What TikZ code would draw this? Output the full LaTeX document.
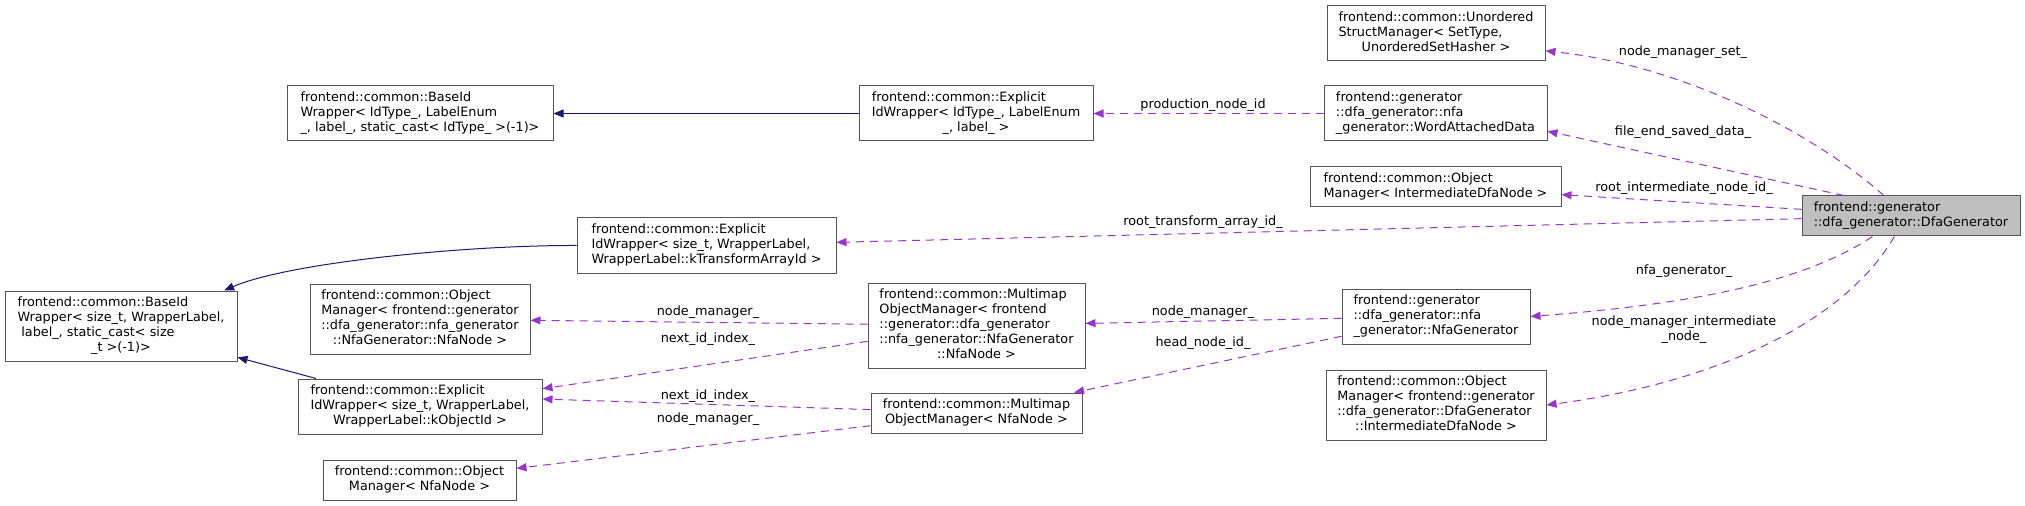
\documentclass[tikz,border=0pt]{standalone}
\usepackage{fontspec}
\setmainfont{DejaVu Sans}
\usetikzlibrary{arrows.meta}
\definecolor{usecol}{HTML}{9A32CD}
\definecolor{inhcol}{HTML}{191970}
\definecolor{boxcol}{HTML}{555555}
\definecolor{mainfill}{HTML}{BFBFBF}
\newcommand\boxtext[2]{\begin{tabular}{@{}l@{}}#1\\\multicolumn{1}{@{}c@{}}{#2}\end{tabular}}
\tikzset{
  cls/.style={draw=boxcol, line width=0.75pt, fill=white, inner xsep=7.5pt, inner ysep=0pt,
              font=\fontsize{9.6}{11.25}\selectfont},
  maincls/.style={cls, fill=mainfill},
  lbl/.style={inner sep=0pt, align=center, font=\fontsize{9.6}{11.25}\selectfont},
  inh/.style={draw=inhcol, line width=0.75pt},
  member/.style={draw=usecol, line width=0.75pt, dash pattern=on 6pt off 4.5pt}
}

\begin{document}
\begin{tikzpicture}[x=0.75pt,y=-0.75pt,>={Triangle[length=7.5pt,width=6pt]}]
          \useasboundingbox (0,0) rectangle (2025,506);
          \begin{scope}
              \node[maincls, minimum width=163.5pt, minimum height=30pt] (dfa) at (1911,216)
                  {\boxtext{frontend::generator}{::dfa\_generator::DfaGenerator}};

              \node[cls, minimum width=163.5pt, minimum height=41.25pt] (unordered) at (1436,33.5)
                  {\boxtext{frontend::common::Unordered\\StructManager< SetType,}{UnorderedSetHasher >}};
              \node[cls, minimum width=167.25pt, minimum height=41.25pt] (wordData) at (1435.5,113.5)
                  {\boxtext{frontend::generator\\::dfa\_generator::nfa}{\_generator::WordAttachedData}};
              \node[cls, minimum width=188.25pt, minimum height=30pt] (objIDN) at (1435.5,187)
                  {\boxtext{frontend::common::Object}{Manager< IntermediateDfaNode >}};
              \node[cls, minimum width=141pt, minimum height=41.25pt] (nfaGen) at (1436,316.5)
                  {\boxtext{frontend::generator\\::dfa\_generator::nfa}{\_generator::NfaGenerator}};
              \node[cls, minimum width=165pt, minimum height=52.5pt] (objIDNfull) at (1436,405)
                  {\boxtext{frontend::common::Object\\Manager< frontend::generator\\::dfa\_generator::DfaGenerator}{::IntermediateDfaNode >}};

              \node[cls, minimum width=175.5pt, minimum height=41.25pt] (explA) at (976,113.5)
                  {\boxtext{frontend::common::Explicit\\IdWrapper< IdType\_, LabelEnum}{\_, label\_ >}};
              \node[cls, minimum width=194.25pt, minimum height=41.25pt] (explT) at (706.5,245.5)
                  {\boxtext{frontend::common::Explicit\\IdWrapper< size\_t, WrapperLabel,}{WrapperLabel::kTransformArrayId >}};
              \node[cls, minimum width=162.75pt, minimum height=63.75pt] (multiFull) at (976.5,325.5)
                  {\boxtext{frontend::common::Multimap\\ObjectManager< frontend\\::generator::dfa\_generator\\::nfa\_generator::NfaGenerator}{::NfaNode >}};
              \node[cls, minimum width=158.25pt, minimum height=30pt] (multiNfa) at (976.5,413)
                  {\boxtext{frontend::common::Multimap}{ObjectManager< NfaNode >}};

              \node[cls, minimum width=199.5pt, minimum height=41.25pt] (baseA) at (420,113.5)
                  {\boxtext{frontend::common::BaseId\\Wrapper< IdType\_, LabelEnum}{\_, label\_, static\_cast< IdType\_ >(-1)>}};
              \node[cls, minimum width=165pt, minimum height=52.5pt] (objNfaFull) at (420,319)
                  {\boxtext{frontend::common::Object\\Manager< frontend::generator\\::dfa\_generator::nfa\_generator}{::NfaGenerator::NfaNode >}};
              \node[cls, minimum width=183pt, minimum height=41.25pt] (explO) at (420,406.5)
                  {\boxtext{frontend::common::Explicit\\IdWrapper< size\_t, WrapperLabel,}{WrapperLabel::kObjectId >}};
              \node[cls, minimum width=144.75pt, minimum height=30pt] (objNfa) at (419.5,480)
                  {\boxtext{frontend::common::Object}{Manager< NfaNode >}};
              \node[cls, minimum width=174pt, minimum height=52.5pt] (baseS) at (121,326)
                  {\boxtext{frontend::common::BaseId\\Wrapper< size\_t, WrapperLabel,\\\hspace*{0.3em}label\_, static\_cast< size}{\_t >(-1)>}};
          \end{scope}

          \begin{scope}
              \node[lbl] (lProd)    at (1203,105) {production\_node\_id};
              \node[lbl] (lSet)     at (1683,52)  {node\_manager\_set\_};
              \node[lbl] (lFileEnd) at (1683,132) {file\_end\_saved\_data\_};
              \node[lbl] (lRootInt) at (1684,188) {root\_intermediate\_node\_id\_};
              \node[lbl] (lRootTr)  at (1203,222) {root\_transform\_array\_id\_};
              \node[lbl] (lNfaGen)  at (1684,271) {nfa\_generator\_};
              \node[lbl] (lMgrInt)  at (1684,330) {node\_manager\_intermediate\\\_node\_};
              \node[lbl] (lMgrA)    at (1203,312) {node\_manager\_};
              \node[lbl] (lHead)    at (1203,343) {head\_node\_id\_};
              \node[lbl] (lMgrB)    at (708,312)  {node\_manager\_};
              \node[lbl] (lNextA)   at (708,339)  {next\_id\_index\_};
              \node[lbl] (lNextB)   at (708,396)  {next\_id\_index\_};
              \node[lbl] (lMgrC)    at (708,419)  {node\_manager\_};
          \end{scope}

          \begin{scope}[every edge/.style={draw}]
              \path [->] (explA) edge[inh] (baseA);
              \path [->] (explO) edge[inh] (baseS);
              \draw [inh,->] (explT.west) .. controls (470,245) and (290,262) .. (baseS.19);

              \path [->] (wordData) edge[member] (explA);
              \path [->] (dfa) edge[member] (objIDN);
              \path [->] (dfa) edge[member] (explT);
              \draw [member,->] (dfa.143) .. controls (1810,130) and (1680,65) .. (unordered.-9);
              \draw [member,->] (dfa.163) -- (wordData.-9);
              \draw [member,->] (dfa.-152) .. controls (1800,285) and (1680,305) .. (nfaGen.east);
              \draw [member,->] (dfa.-129) .. controls (1840,330) and (1700,385) .. (objIDNfull.east);

              \path [->] (nfaGen) edge[member] (multiFull);
              \path [->] (nfaGen) edge[member] (multiNfa);
              \path [->] (multiFull) edge[member] (objNfaFull);
              \path [->] (multiFull) edge[member] (explO);
              \path [->] (multiNfa) edge[member] ([yshift=5.6pt]explO.east);
              \path [->] (multiNfa) edge[member] (objNfa);
          \end{scope}
\end{tikzpicture}
\end{document}
